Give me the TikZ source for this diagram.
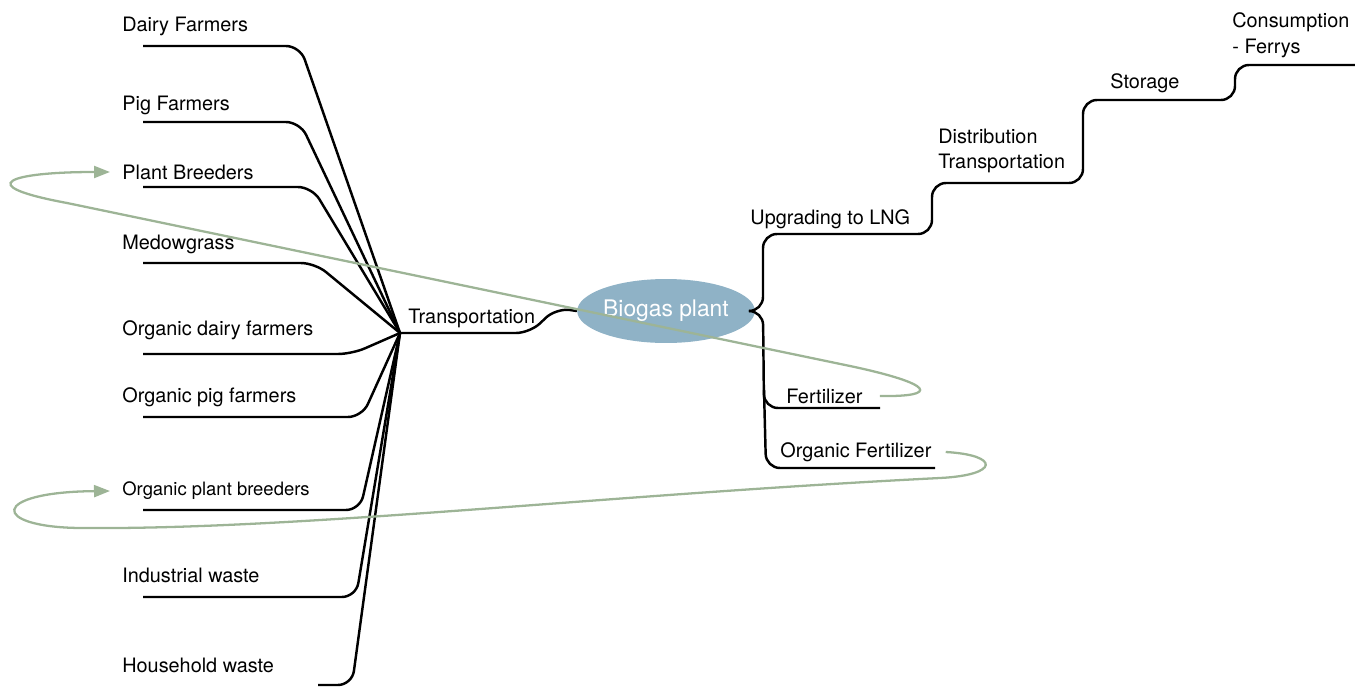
\documentclass[tikz,border=0pt]{standalone}
\usepackage{fontspec}
\setmainfont{TeX Gyre Heros}
\usepackage{tikz}
\usetikzlibrary{arrows.meta,positioning,shapes.geometric,calc}
\definecolor{plantblue}{RGB}{143,178,198}
\definecolor{loopgreen}{RGB}{157,180,150}

\begin{document}
\begin{tikzpicture}[x=0.02cm,y=-0.02cm,
  leaf/.style={anchor=west,inner sep=0pt,align=left,font=\fontsize{11.3}{14.6}\selectfont},
  branch/.style={line width=1.4pt,rounded corners=8pt},
  link/.style={-{Triangle[length=3.2mm,width=2.4mm]},draw=loopgreen,line width=1.3pt},
  plant/.style={ellipse,fill=plantblue,text=white,minimum width=3.36cm,minimum height=1.28cm,inner sep=0pt,font=\fontsize{13}{15}\selectfont}
]
\useasboundingbox (0,0) rectangle (1355,686);
% inputs
\node[leaf] (dairy) at (122,26) {Dairy Farmers};
\node[leaf] (pig) at (122,105) {Pig Farmers};
\node[leaf] (plantbr) at (122,172) {Plant Breeders};
\node[leaf] (medow) at (122,244) {Medowgrass};
\node[leaf] (orgdairy) at (122,330) {Organic dairy farmers};
\node[leaf] (orgpig) at (122,397) {Organic pig farmers};
\node[leaf,font=\fontsize{10.5}{13}\selectfont] (orgplant) at (122,491) {Organic plant breeders};
\node[leaf] (industrial) at (122,575) {Industrial waste};
\node[leaf] (household) at (122,665) {Household waste};
\coordinate (hub) at (400,333);
\foreach \n/\y/\xe in {dairy/46/300, pig/122/300, plantbr/187/312, medow/263/315,
  orgdairy/354/352, orgpig/417/362, orgplant/510/360, industrial/597/356}
  \draw[branch] (143,\y) coordinate (\n-u) -- (\xe,\y) -- (hub);
\draw[branch] (318,685) coordinate (household-u) -- (352,685) -- (hub);
% plant
\node[leaf] (transport) at (408,318) {Transportation};
\node[plant] (biogas) at (666,311) {Biogas plant};
\draw[branch] (hub) -- (530,333) -- (556,308) -- (biogas.west);
% outputs
\node[leaf] (upgrading) at (750,219) {Upgrading to LNG};
\node[leaf] (distribution) at (938,151) {Distribution\\Transportation};
\node[leaf] (storage) at (1110,83) {Storage};
\node[leaf] (consumption) at (1232,35) {Consumption\\- Ferrys};
\node[leaf] (fertilizer) at (786,396) {Fertilizer};
\node[leaf] (orgfert) at (780,452) {Organic Fertilizer};
\draw[branch] (biogas.east) -- (763,311) -- (763,234) -- (932,234) -- (932,183)
  -- (1083,183) -- (1083,100) -- (1235,100) -- (1235,65) -- (1355,65) coordinate (ferry-u);
\draw[branch] (biogas.east) -- (763,311) -- (764,408) -- (880,408) coordinate (fert-u);
\draw[branch] (764,390) -- (766,468) -- (935,468) coordinate (orgfert-u);
% loops back to the farms
\draw[link] ([xshift=0.34cm]fertilizer.east) .. controls (940,397) and (935,384) .. (850,366)
  -- (67,203) .. controls (-30,185) and (10,172) .. ([xshift=-0.24cm]plantbr.west);
\draw[link] ([xshift=0.28cm]orgfert.east) .. controls (1000,455) and (1000,475) .. (940,478)
  .. controls (600,495) and (300,530) .. (80,528)
  .. controls (-10,527) and (-10,492) .. ([xshift=-0.24cm]orgplant.west);
\end{tikzpicture}
\end{document}
